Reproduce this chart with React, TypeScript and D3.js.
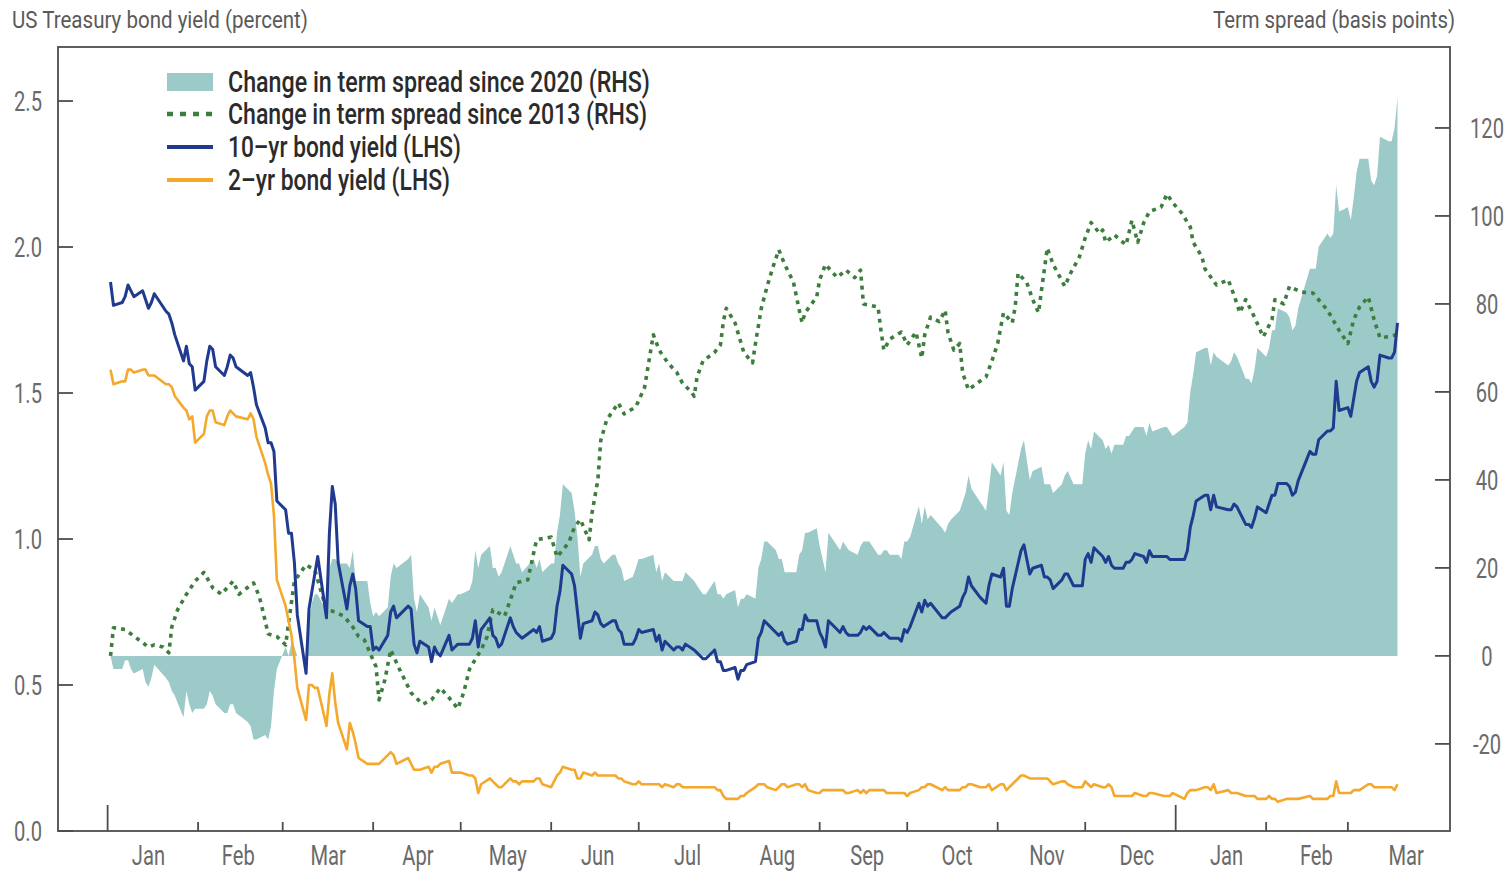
import React from "react";
import * as d3 from "d3";

// ---------- DATA ----------
// Trading days (US bond market), grouped by month
const tradingDaysByMonth: [string, number[]][] = [
  ["2020-01", [2, 3, 6, 7, 8, 9, 10, 13, 14, 15, 16, 17, 21, 22, 23, 24, 27, 28, 29, 30, 31]],
  ["2020-02", [3, 4, 5, 6, 7, 10, 11, 12, 13, 14, 18, 19, 20, 21, 24, 25, 26, 27, 28]],
  ["2020-03", [2, 3, 4, 5, 6, 9, 10, 11, 12, 13, 16, 17, 18, 19, 20, 23, 24, 25, 26, 27, 30, 31]],
  ["2020-04", [1, 2, 3, 6, 7, 8, 9, 13, 14, 15, 16, 17, 20, 21, 22, 23, 24, 27, 28, 29, 30]],
  ["2020-05", [1, 4, 5, 6, 7, 8, 11, 12, 13, 14, 15, 18, 19, 20, 21, 22, 26, 27, 28, 29]],
  ["2020-06", [1, 2, 3, 4, 5, 8, 9, 10, 11, 12, 15, 16, 17, 18, 19, 22, 23, 24, 25, 26, 29, 30]],
  ["2020-07", [1, 2, 6, 7, 8, 9, 10, 13, 14, 15, 16, 17, 20, 21, 22, 23, 24, 27, 28, 29, 30, 31]],
  ["2020-08", [3, 4, 5, 6, 7, 10, 11, 12, 13, 14, 17, 18, 19, 20, 21, 24, 25, 26, 27, 28, 31]],
  ["2020-09", [1, 2, 3, 4, 8, 9, 10, 11, 14, 15, 16, 17, 18, 21, 22, 23, 24, 25, 28, 29, 30]],
  ["2020-10", [1, 2, 5, 6, 7, 8, 9, 13, 14, 15, 16, 19, 20, 21, 22, 23, 26, 27, 28, 29, 30]],
  ["2020-11", [2, 3, 4, 5, 6, 9, 10, 12, 13, 16, 17, 18, 19, 20, 23, 24, 25, 27, 30]],
  ["2020-12", [1, 2, 3, 4, 7, 8, 9, 10, 11, 14, 15, 16, 17, 18, 21, 22, 23, 24, 28, 29, 30, 31]],
  ["2021-01", [4, 5, 6, 7, 8, 11, 12, 13, 14, 15, 19, 20, 21, 22, 25, 26, 27, 28, 29]],
  ["2021-02", [1, 2, 3, 4, 5, 8, 9, 10, 11, 12, 16, 17, 18, 19, 22, 23, 24, 25, 26]],
  ["2021-03", [1, 2, 3, 4, 5, 8, 9, 10, 11, 12, 15, 16, 17, 18]],
];

// 10-yr bond yield (LHS, percent)
const tenYearYield: number[] = [
  1.88, 1.80, 1.81, 1.83, 1.87, 1.85, 1.83, 1.85, 1.82, 1.79, 1.81, 1.84, 1.78, 1.77, 1.74, 1.70, 1.61, 1.66, 1.60, 1.59, 1.51,
  1.54, 1.61, 1.66, 1.65, 1.59, 1.56, 1.59, 1.63, 1.62, 1.59, 1.56, 1.57, 1.52, 1.46, 1.38, 1.33, 1.33, 1.30, 1.13,
  1.10, 1.02, 1.02, 0.92, 0.74, 0.54, 0.76, 0.82, 0.88, 0.94, 0.73, 1.02, 1.18, 1.12, 0.92, 0.76, 0.84, 0.88, 0.83, 0.72, 0.70, 0.70,
  0.62, 0.63, 0.62, 0.67, 0.75, 0.77, 0.73, 0.77, 0.76, 0.64, 0.61, 0.65, 0.63, 0.58, 0.63, 0.61, 0.60, 0.67, 0.62, 0.63, 0.64,
  0.64, 0.64, 0.66, 0.72, 0.63, 0.69, 0.73, 0.67, 0.66, 0.63, 0.64, 0.73, 0.70, 0.68, 0.67, 0.66, 0.69, 0.68, 0.70, 0.65,
  0.66, 0.68, 0.77, 0.82, 0.91, 0.88, 0.84, 0.75, 0.66, 0.71, 0.72, 0.75, 0.74, 0.71, 0.70, 0.72, 0.72, 0.69, 0.68, 0.64, 0.64, 0.66,
  0.69, 0.68, 0.69, 0.65, 0.67, 0.62, 0.65, 0.62, 0.63, 0.63, 0.62, 0.64, 0.62, 0.61, 0.60, 0.59, 0.59, 0.62, 0.58, 0.58, 0.55, 0.55,
  0.56, 0.52, 0.55, 0.55, 0.57, 0.58, 0.66, 0.68, 0.72, 0.71, 0.68, 0.67, 0.68, 0.65, 0.64, 0.65, 0.69, 0.69, 0.74, 0.72, 0.72,
  0.68, 0.66, 0.63, 0.72, 0.68, 0.70, 0.68, 0.67, 0.67, 0.68, 0.70, 0.69, 0.70, 0.67, 0.67, 0.68, 0.67, 0.66, 0.66, 0.65, 0.69,
  0.68, 0.70, 0.78, 0.75, 0.79, 0.77, 0.78, 0.73, 0.73, 0.74, 0.75, 0.77, 0.80, 0.82, 0.87, 0.84, 0.80, 0.79, 0.78, 0.84, 0.88,
  0.87, 0.90, 0.77, 0.77, 0.83, 0.96, 0.98, 0.88, 0.90, 0.91, 0.87, 0.87, 0.86, 0.83, 0.86, 0.88, 0.88, 0.84, 0.84,
  0.93, 0.95, 0.92, 0.97, 0.94, 0.92, 0.94, 0.91, 0.90, 0.90, 0.92, 0.92, 0.93, 0.95, 0.94, 0.92, 0.96, 0.94, 0.94, 0.94, 0.93, 0.93,
  0.93, 0.96, 1.04, 1.08, 1.13, 1.15, 1.15, 1.10, 1.15, 1.11, 1.10, 1.10, 1.12, 1.11, 1.05, 1.05, 1.04, 1.07, 1.11,
  1.09, 1.12, 1.15, 1.15, 1.19, 1.19, 1.18, 1.15, 1.16, 1.20, 1.30, 1.29, 1.29, 1.34, 1.37, 1.37, 1.38, 1.54, 1.44,
  1.45, 1.42, 1.48, 1.54, 1.57, 1.59, 1.54, 1.52, 1.54, 1.63, 1.62, 1.62, 1.64, 1.74,
];

// 2-yr bond yield (LHS, percent)
const twoYearYield: number[] = [
  1.58, 1.53, 1.54, 1.54, 1.58, 1.58, 1.57, 1.58, 1.58, 1.56, 1.56, 1.56, 1.53, 1.53, 1.52, 1.49, 1.45, 1.44, 1.41, 1.42, 1.33,
  1.36, 1.42, 1.44, 1.44, 1.40, 1.39, 1.42, 1.44, 1.43, 1.42, 1.41, 1.43, 1.41, 1.35, 1.26, 1.22, 1.19, 1.08, 0.86,
  0.77, 0.72, 0.67, 0.59, 0.49, 0.38, 0.50, 0.50, 0.49, 0.49, 0.36, 0.47, 0.54, 0.44, 0.37, 0.28, 0.37, 0.34, 0.30, 0.25, 0.23, 0.23,
  0.23, 0.23, 0.23, 0.26, 0.27, 0.26, 0.23, 0.25, 0.23, 0.21, 0.21, 0.21, 0.22, 0.20, 0.22, 0.22, 0.23, 0.24, 0.20, 0.20, 0.20,
  0.20, 0.19, 0.19, 0.18, 0.13, 0.16, 0.18, 0.17, 0.16, 0.15, 0.15, 0.18, 0.17, 0.17, 0.16, 0.17, 0.17, 0.18, 0.18, 0.16,
  0.15, 0.17, 0.19, 0.20, 0.22, 0.21, 0.21, 0.18, 0.18, 0.20, 0.19, 0.20, 0.19, 0.19, 0.19, 0.19, 0.19, 0.18, 0.18, 0.17, 0.16, 0.16,
  0.17, 0.16, 0.16, 0.16, 0.16, 0.15, 0.16, 0.15, 0.16, 0.16, 0.15, 0.15, 0.15, 0.15, 0.15, 0.15, 0.15, 0.15, 0.14, 0.14, 0.12, 0.11,
  0.11, 0.11, 0.12, 0.12, 0.13, 0.15, 0.16, 0.16, 0.16, 0.15, 0.14, 0.15, 0.16, 0.16, 0.15, 0.16, 0.16, 0.15, 0.16, 0.14, 0.13,
  0.13, 0.14, 0.14, 0.14, 0.14, 0.14, 0.13, 0.13, 0.14, 0.13, 0.14, 0.13, 0.14, 0.14, 0.14, 0.14, 0.13, 0.13, 0.13, 0.13, 0.13,
  0.12, 0.13, 0.14, 0.15, 0.15, 0.16, 0.16, 0.14, 0.15, 0.14, 0.14, 0.14, 0.15, 0.15, 0.16, 0.16, 0.15, 0.15, 0.15, 0.16, 0.14,
  0.16, 0.16, 0.14, 0.15, 0.16, 0.19, 0.19, 0.18, 0.18, 0.18, 0.18, 0.18, 0.17, 0.16, 0.17, 0.17, 0.16, 0.15, 0.15,
  0.17, 0.16, 0.15, 0.16, 0.15, 0.15, 0.16, 0.15, 0.12, 0.12, 0.12, 0.12, 0.12, 0.13, 0.12, 0.12, 0.13, 0.13, 0.12, 0.12, 0.12, 0.13,
  0.11, 0.13, 0.14, 0.14, 0.14, 0.15, 0.15, 0.14, 0.16, 0.13, 0.14, 0.13, 0.13, 0.13, 0.12, 0.12, 0.12, 0.12, 0.11,
  0.11, 0.12, 0.11, 0.11, 0.10, 0.11, 0.11, 0.11, 0.11, 0.11, 0.12, 0.11, 0.11, 0.11, 0.11, 0.12, 0.12, 0.17, 0.13,
  0.13, 0.13, 0.14, 0.14, 0.14, 0.16, 0.16, 0.15, 0.15, 0.15, 0.15, 0.15, 0.14, 0.16,
];

// Change in term spread since 2020 (RHS, basis points)
const spreadChange2020: number[] = [
  0, -3, -3, -1, -1, -3, -4, -3, -6, -7, -5, -2, -5, -6, -8, -9, -14, -8, -11, -13, -12,
  -12, -11, -8, -9, -11, -13, -13, -11, -11, -13, -15, -16, -19, -19, -18, -19, -16, -8, -3,
  2, 0, 3, 2, 0, 0, 8, 12, 14, 14, 10, 20, 22, 22, 21, 21, 20, 24, 17, 17, 17, 12,
  9, 10, 9, 11, 18, 21, 20, 22, 23, 13, 10, 14, 11, 8, 11, 9, 7, 13, 12, 13, 14,
  14, 15, 17, 24, 20, 23, 25, 20, 20, 18, 19, 25, 23, 21, 21, 19, 22, 20, 22, 19,
  21, 21, 28, 32, 39, 37, 33, 27, 18, 21, 23, 25, 25, 22, 21, 23, 23, 21, 20, 17, 18, 20,
  22, 22, 23, 19, 21, 17, 19, 17, 17, 17, 17, 19, 17, 16, 15, 14, 14, 17, 14, 14, 13, 14,
  15, 11, 13, 13, 14, 13, 20, 22, 26, 26, 24, 22, 22, 19, 19, 19, 23, 24, 28, 28, 29,
  25, 22, 19, 28, 24, 26, 25, 24, 23, 25, 26, 26, 26, 23, 23, 24, 24, 23, 23, 22, 26,
  26, 27, 34, 30, 34, 31, 32, 29, 28, 30, 31, 33, 35, 37, 41, 38, 35, 34, 33, 38, 44,
  41, 44, 33, 32, 37, 47, 49, 40, 42, 43, 39, 39, 39, 37, 39, 41, 42, 39, 39,
  46, 49, 47, 51, 49, 47, 48, 46, 48, 48, 50, 50, 51, 52, 52, 50, 53, 51, 52, 52, 51, 50,
  52, 53, 60, 64, 69, 70, 70, 66, 69, 68, 66, 67, 69, 68, 63, 63, 62, 65, 70,
  68, 70, 74, 74, 79, 78, 77, 74, 75, 79, 88, 88, 88, 93, 96, 95, 96, 107, 101,
  102, 99, 104, 110, 113, 113, 108, 107, 109, 118, 117, 117, 120, 127,
];

// Change in term spread since 2013 (RHS, basis points), aligned to the 2020 calendar
const spread2013Dates: string[] = [
  "2020-01-02", "2020-01-03", "2020-01-07", "2020-01-11", "2020-01-15", "2020-01-17", "2020-01-20", "2020-01-22", "2020-01-23", "2020-01-25",
  "2020-01-28", "2020-01-31", "2020-02-03", "2020-02-06", "2020-02-09", "2020-02-13", "2020-02-15", "2020-02-20", "2020-02-22", "2020-02-24",
  "2020-02-25", "2020-02-28", "2020-03-02", "2020-03-05", "2020-03-09", "2020-03-12", "2020-03-16", "2020-03-19", "2020-03-22", "2020-03-25",
  "2020-03-27", "2020-03-29", "2020-04-02", "2020-04-03", "2020-04-05", "2020-04-07", "2020-04-10", "2020-04-14", "2020-04-18", "2020-04-21",
  "2020-04-24", "2020-04-27", "2020-04-30", "2020-05-02", "2020-05-04", "2020-05-08", "2020-05-10", "2020-05-12", "2020-05-16", "2020-05-18",
  "2020-05-20", "2020-05-24", "2020-05-26", "2020-05-27", "2020-06-01", "2020-06-03", "2020-06-07", "2020-06-09", "2020-06-11", "2020-06-14",
  "2020-06-15", "2020-06-17", "2020-06-18", "2020-06-20", "2020-06-24", "2020-06-26", "2020-06-30", "2020-07-03", "2020-07-05", "2020-07-06",
  "2020-07-08", "2020-07-11", "2020-07-14", "2020-07-16", "2020-07-19", "2020-07-20", "2020-07-21", "2020-07-23", "2020-07-27", "2020-07-29",
  "2020-07-30", "2020-07-31", "2020-08-03", "2020-08-06", "2020-08-09", "2020-08-10", "2020-08-12", "2020-08-14", "2020-08-16", "2020-08-18",
  "2020-08-20", "2020-08-23", "2020-08-25", "2020-08-26", "2020-08-27", "2020-08-31", "2020-09-01", "2020-09-03", "2020-09-07", "2020-09-10",
  "2020-09-13", "2020-09-15", "2020-09-16", "2020-09-21", "2020-09-22", "2020-09-23", "2020-09-25", "2020-09-29", "2020-10-01", "2020-10-04",
  "2020-10-06", "2020-10-07", "2020-10-09", "2020-10-12", "2020-10-14", "2020-10-15", "2020-10-17", "2020-10-19", "2020-10-20", "2020-10-22",
  "2020-10-25", "2020-10-28", "2020-10-30", "2020-11-01", "2020-11-03", "2020-11-06", "2020-11-07", "2020-11-08", "2020-11-11", "2020-11-13",
  "2020-11-15", "2020-11-16", "2020-11-18", "2020-11-20", "2020-11-24", "2020-11-26", "2020-11-29", "2020-12-01", "2020-12-03", "2020-12-06",
  "2020-12-07", "2020-12-08", "2020-12-11", "2020-12-15", "2020-12-17", "2020-12-19", "2020-12-21", "2020-12-23", "2020-12-27", "2020-12-29",
  "2020-12-31", "2021-01-03", "2021-01-06", "2021-01-07", "2021-01-10", "2021-01-11", "2021-01-15", "2021-01-19", "2021-01-21", "2021-01-23",
  "2021-01-25", "2021-01-28", "2021-01-31", "2021-02-03", "2021-02-04", "2021-02-07", "2021-02-09", "2021-02-13", "2021-02-17", "2021-02-22",
  "2021-02-26", "2021-03-01", "2021-03-03", "2021-03-05", "2021-03-08", "2021-03-10", "2021-03-12", "2021-03-14", "2021-03-18",
];
const spread2013Values: number[] = [
  0, 6.4, 6, 4, 2, 2.5, 2, 0.7, 6.6, 10.5,
  14, 17, 19, 15.5, 14, 17, 14, 16.6, 13.5, 8,
  5, 4.4, 2.5, 17, 20.7, 19.5, 10.5, 10, 9, 6.6,
  4.4, 3.6, -2.5, -10, -5.5, 1.4, -3, -8.4, -11, -10,
  -7.3, -9.5, -12, -8.4, -3, 1.4, 4.3, 10.5, 9, 12.7,
  16.6, 17.3, 23.4, 26.4, 27, 22.5, 25.7, 29.3, 31, 26.4,
  32.5, 40, 49, 53.6, 57.5, 55, 56.6, 61, 69, 73,
  69.5, 66.6, 64.5, 62, 60, 59, 63.4, 67, 69, 70.7,
  76, 79, 75.7, 69, 66.6, 71, 79, 84, 88.4, 92.3,
  89, 85, 78.6, 75.7, 78, 81.6, 85.5, 89, 86, 87.7,
  86, 87.7, 80, 79.3, 74, 69.5, 72, 73.6, 70.7, 73.6,
  67.7, 73, 77, 76, 78.6, 73.4, 69.5, 71, 64.3, 60.5,
  62, 63.4, 67, 71, 78, 75.7, 79.3, 87, 84.8, 81,
  78, 83, 92.7, 89, 84, 87, 90.7, 95, 98.5, 96,
  96.8, 94, 95.7, 93.4, 99, 94, 98.4, 101, 102, 105,
  103, 100.7, 97.5, 94, 90.7, 88, 84.3, 85.5, 82, 78,
  81, 77, 72.5, 76.4, 81, 80, 84, 82.7, 82.5, 78.6,
  74, 71, 76.4, 79.3, 81.6, 76.4, 72.3, 72.5, 73,
];

const leftTicks = [0, 0.5, 1.0, 1.5, 2.0, 2.5];
const rightTicks = [-20, 0, 20, 40, 60, 80, 100, 120];
const monthLabels = ["Jan", "Feb", "Mar", "Apr", "May", "Jun", "Jul", "Aug", "Sep", "Oct", "Nov", "Dec", "Jan", "Feb", "Mar"];
const leftTitle = "US Treasury bond yield (percent)";
const rightTitle = "Term spread (basis points)";
const legendLabels = [
  "Change in term spread since 2020 (RHS)",
  "Change in term spread since 2013 (RHS)",
  "10\u2013yr bond yield (LHS)",
  "2\u2013yr bond yield (LHS)",
];

// ---------- STYLE ----------
const COLORS = {
  area: "#9ccac8",
  dotted: "#3d7d3d",
  ten: "#1f3a8f",
  two: "#f4a82c",
  axis: "#4d4d4d",
  tick: "#6a6a6a",
  title: "#5a5a5a",
  legend: "#2b2b2b",
};
const FONT = "Roboto, 'Liberation Sans', sans-serif";
const SQUEEZE = 0.72; // horizontal squeeze to mimic the condensed face

const W = 1511;
const H = 872;
const P = { left: 58, right: 1450, top: 47, bottom: 831 };

function CondText(props: {
  x: number;
  y: number;
  anchor?: "start" | "middle" | "end";
  size: number;
  fill: string;
  children: React.ReactNode;
}) {
  const { x, y, anchor = "start", size, fill, children } = props;
  return (
    <text
      transform={`translate(${x},${y}) scale(${SQUEEZE},1)`}
      textAnchor={anchor}
      fontSize={size}
      fill={fill}
    >
      {children}
    </text>
  );
}

export default function App() {
  const parse = d3.utcParse("%Y-%m-%d");
  const tradeDates = tradingDaysByMonth.flatMap(([m, days]) =>
    days.map((d) => parse(`${m}-${String(d).padStart(2, "0")}`) as Date)
  );
  const dates2013 = spread2013Dates.map((s) => parse(s) as Date);

  const x = d3
    .scaleUtc()
    .domain([parse("2019-12-15") as Date, parse("2021-04-05") as Date])
    .range([P.left, P.right]);
  const yL = d3.scaleLinear().domain([0, 2.685]).range([P.bottom, P.top]);
  const yR = d3.scaleLinear().domain([-39.8, 138.4]).range([P.bottom, P.top]);

  const areaGen = d3
    .area<number>()
    .x((_, i) => x(tradeDates[i]))
    .y0(yR(0))
    .y1((v) => yR(v));
  const lineL = d3
    .line<number>()
    .x((_, i) => x(tradeDates[i]))
    .y((v) => yL(v));
  const line2013 = d3
    .line<number>()
    .x((_, i) => x(dates2013[i]))
    .y((v) => yR(v));

  const months = d3.utcMonth.range(parse("2020-01-01") as Date, parse("2021-03-02") as Date);
  const labelPos = d3
    .scalePoint<number>()
    .domain(monthLabels.map((_, i) => i))
    .range([x(parse("2020-01-15") as Date), x(parse("2021-03-21") as Date)]);

  const legendX0 = 167;
  const legendX1 = 213;
  const legendTextX = 228;
  const legendYs = [82, 114, 147, 180];
  const legendWidths = [422, 419, 233, 222];

  return (
    <div>
      <style>{`body{margin:0;background:#fff}`}</style>
      <svg width={W} height={H} viewBox={`0 0 ${W} ${H}`} style={{ display: "block", fontFamily: FONT }}>
        <rect x={0} y={0} width={W} height={H} fill="#fff" />

        {/* area: change in term spread since 2020 */}
        <path d={areaGen(spreadChange2020) || ""} fill={COLORS.area} stroke="none" />

        {/* dotted: change in term spread since 2013 */}
        <path
          d={line2013(spread2013Values) || ""}
          fill="none"
          stroke={COLORS.dotted}
          strokeWidth={3.6}
          strokeDasharray="4 5"
          strokeLinejoin="round"
        />

        {/* 2-yr */}
        <path d={lineL(twoYearYield) || ""} fill="none" stroke={COLORS.two} strokeWidth={2.6} strokeLinejoin="round" />
        {/* 10-yr */}
        <path d={lineL(tenYearYield) || ""} fill="none" stroke={COLORS.ten} strokeWidth={3} strokeLinejoin="round" />

        {/* frame */}
        <rect
          x={P.left}
          y={P.top}
          width={P.right - P.left}
          height={P.bottom - P.top}
          fill="none"
          stroke={COLORS.axis}
          strokeWidth={1.8}
        />

        {/* left ticks */}
        {leftTicks.map((t) => (
          <g key={`l${t}`}>
            <line x1={P.left} x2={P.left + 15} y1={yL(t)} y2={yL(t)} stroke={COLORS.axis} strokeWidth={1.8} />
            <CondText x={42} y={yL(t) + 10} anchor="end" size={28} fill={COLORS.tick}>
              {t.toFixed(1)}
            </CondText>
          </g>
        ))}

        {/* right ticks */}
        {rightTicks.map((t) => (
          <g key={`r${t}`}>
            <line x1={P.right - 15} x2={P.right} y1={yR(t)} y2={yR(t)} stroke={COLORS.axis} strokeWidth={1.8} />
            <CondText x={1487} y={yR(t) + 10} anchor="middle" size={28} fill={COLORS.tick}>
              {t}
            </CondText>
          </g>
        ))}

        {/* bottom ticks */}
        {months.map((m) => {
          const isYear = m.getUTCMonth() === 0;
          return (
            <line
              key={m.toISOString()}
              x1={x(m)}
              x2={x(m)}
              y1={P.bottom}
              y2={P.bottom - (isYear ? 26 : 9)}
              stroke={COLORS.axis}
              strokeWidth={1.8}
            />
          );
        })}
        {monthLabels.map((lab, i) => (
          <CondText key={`m${i}`} x={labelPos(i) as number} y={865} anchor="middle" size={28} fill={COLORS.tick}>
            {lab}
          </CondText>
        ))}

        {/* axis titles */}
        <text x={12} y={28} fontSize={24} fill={COLORS.title} textLength={296} lengthAdjust="spacingAndGlyphs">
          {leftTitle}
        </text>
        <text x={1213} y={28} fontSize={24} fill={COLORS.title} textLength={242} lengthAdjust="spacingAndGlyphs">
          {rightTitle}
        </text>

        {/* legend */}
        <rect x={legendX0} y={legendYs[0] - 9} width={legendX1 - legendX0} height={18} fill={COLORS.area} />
        <line
          x1={legendX0}
          x2={legendX1}
          y1={legendYs[1]}
          y2={legendYs[1]}
          stroke={COLORS.dotted}
          strokeWidth={4.5}
          strokeDasharray="6 7"
        />
        <line x1={legendX0} x2={legendX1} y1={legendYs[2]} y2={legendYs[2]} stroke={COLORS.ten} strokeWidth={3.8} />
        <line x1={legendX0} x2={legendX1} y1={legendYs[3]} y2={legendYs[3]} stroke={COLORS.two} strokeWidth={3.8} />
        {legendLabels.map((lab, i) => (
          <text
            key={`lg${i}`}
            x={legendTextX}
            y={legendYs[i] + 10}
            fontSize={29}
            fontWeight={500}
            fill={COLORS.legend}
            textLength={legendWidths[i]}
            lengthAdjust="spacingAndGlyphs"
          >
            {lab}
          </text>
        ))}
      </svg>
    </div>
  );
}
